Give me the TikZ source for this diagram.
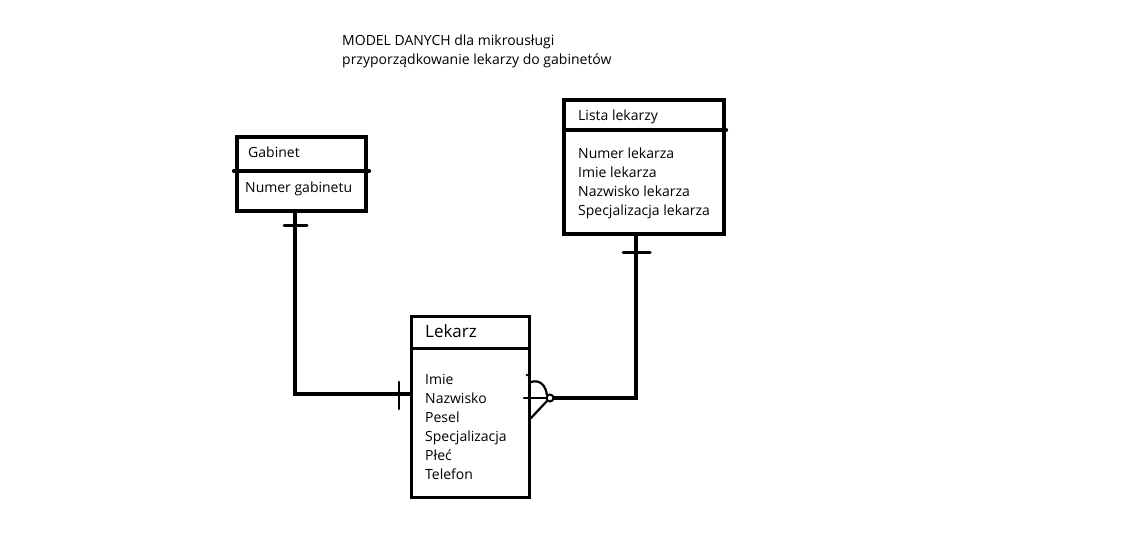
\documentclass[tikz,border=0pt]{standalone}
\usepackage{fontspec}
\setmainfont{Open Sans}
\begin{document}
\begin{tikzpicture}[x=1pt,y=-1pt,
  heavy/.style={line width=4.2pt,line cap=round},
  medium/.style={line width=3pt},
  thin/.style={line width=2.2pt,line cap=round},
  ent/.style={draw,inner sep=0pt,outer sep=0pt},
  txt/.style={anchor=base west,inner sep=0pt,font=\fontsize{14pt}{17pt}\selectfont},
  big/.style={anchor=base west,inner sep=0pt,font=\fontsize{17pt}{20pt}\selectfont}]
\useasboundingbox (0,0) rectangle (1126,558);
\fill[white] (0,0) rectangle (1126,558);

% title
\node[txt] (t1) at (342,45) {MODEL DANYCH dla mikrousługi};
\node[txt] (t2) at (342,64) {przyporządkowanie lekarzy do gabinetów};

% Gabinet
\node[ent,heavy,minimum width=129pt,minimum height=74pt] (gab) at (301.5,174) {};
\coordinate (gd1) at (234,171);
\coordinate (gd2) at (369,171);
\draw[heavy] (gd1) -- (gd2);
\node[txt] (gabt) at (248,157) {Gabinet};
\node[txt] (gab1) at (245,192) {Numer gabinetu};

% Lista lekarzy
\node[ent,heavy,minimum width=160pt,minimum height=134pt] (lis) at (644,167) {};
\coordinate (ld1) at (564,130);
\coordinate (ld2) at (726,130);
\draw[heavy] (ld1) -- (ld2);
\node[txt] (list) at (578,120) {Lista lekarzy};
\node[txt] (lis1) at (578,158) {Numer lekarza};
\node[txt] (lis2) at (578,177) {Imie lekarza};
\node[txt] (lis3) at (578,196) {Nazwisko lekarza};
\node[txt] (lis4) at (578,215) {Specjalizacja lekarza};

% Lekarz
\node[ent,medium,minimum width=118pt,minimum height=181pt] (lek) at (470,406.5) {};
\coordinate (kd1) at (411,348);
\coordinate (kd2) at (529,348);
\draw[medium] (kd1) -- (kd2);
\node[big] (lekt) at (425,337) {Lekarz};
\node[txt] (lek1) at (425,384) {Imie};
\node[txt] (lek2) at (425,403) {Nazwisko};
\node[txt] (lek3) at (425,422) {Pesel};
\node[txt] (lek4) at (425,441) {Specjalizacja};
\node[txt] (lek5) at (425,460) {Płeć};
\node[txt] (lek6) at (425,479) {Telefon};

% connector Gabinet -> Lekarz
\coordinate (g1) at (295,211);
\coordinate (g2) at (295,394);
\coordinate (g3) at (411,394);
\draw[heavy,line cap=butt] (g1) -- (g2) -- (g3);
\coordinate (gc1) at (284,225);
\coordinate (gc2) at (307,225);
\draw[thin,line width=3pt] (gc1) -- (gc2);
\coordinate (gc3) at (399,382);
\coordinate (gc4) at (399,409);
\draw[thin,line width=2.6pt] (gc3) -- (gc4);

% connector Lista -> Lekarz
\coordinate (l1) at (636,234);
\coordinate (l2) at (636,398);
\coordinate (l3) at (553,398);
\draw[heavy,line cap=butt] (l1) -- (l2) -- (l3);
\coordinate (lc1) at (623,252);
\coordinate (lc2) at (650,252);
\draw[thin,line width=3pt] (lc1) -- (lc2);

% crow's foot
\coordinate (cf0) at (524,398);
\coordinate (cf1) at (547,398);
\draw[thin] (cf0) -- (cf1);
\node[draw,circle,line width=2pt,minimum size=7pt,inner sep=0pt] (cfc) at (550,398) {};
\coordinate (cu) at (531,382);
\draw[thin] (cu) .. controls (540,379) and (546,386) .. (cfc.north west);
\coordinate (cl) at (531,418);
\draw[thin] (cl) -- (cfc.south west);
\coordinate (ct) at (527,375);
\fill (ct) circle (1.3pt);
\end{tikzpicture}
\end{document}
